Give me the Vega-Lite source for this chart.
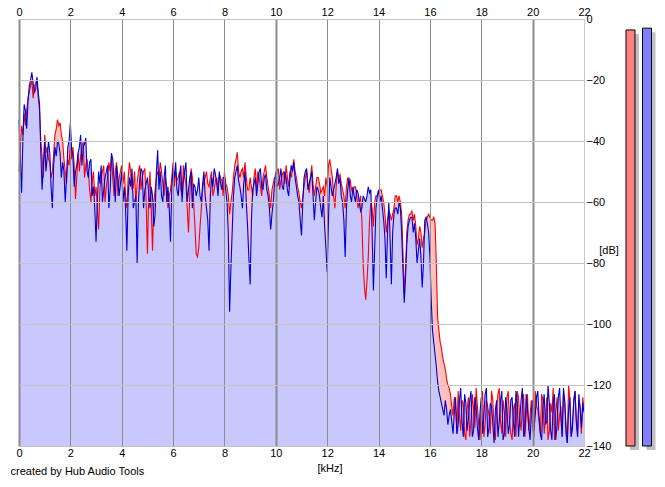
{
  "$schema": "https://vega.github.io/schema/vega-lite/v6.json",
  "background": "white",
  "padding": {"left": 10, "top": 6, "right": 0, "bottom": 0},
  "config": {
    "view": {"stroke": null},
    "font": "Liberation Sans",
    "axis": {
      "labelFont": "Liberation Sans", "labelFontSize": 11, "labelColor": "black",
      "titleFont": "Liberation Sans", "titleFontSize": 11, "titleFontWeight": "normal", "titleColor": "black",
      "ticks": false, "tickSize": 0, "domain": false, "labelFlush": false, "labelOverlap": false
    }
  },
  "datasets": {
    "spec": [
      {"f":0.0,"L":-50,"R":-33},{"f":0.1,"L":-35,"R":-57},{"f":0.2,"L":-31,"R":-28},{"f":0.3,"L":-30,"R":-36},{"f":0.4,"L":-24,"R":-22},
      {"f":0.5,"L":-20,"R":-17.5},{"f":0.6,"L":-22,"R":-24},{"f":0.7,"L":-20,"R":-19},{"f":0.8,"L":-30,"R":-28},{"f":0.9,"L":-45,"R":-56},
      {"f":1.0,"L":-38,"R":-40},{"f":1.1,"L":-42,"R":-45},{"f":1.2,"L":-47,"R":-44},{"f":1.3,"L":-50,"R":-62},{"f":1.4,"L":-38,"R":-42},
      {"f":1.5,"L":-33,"R":-40},{"f":1.6,"L":-34,"R":-44},{"f":1.7,"L":-40,"R":-47},{"f":1.8,"L":-50,"R":-60},{"f":1.9,"L":-46,"R":-42},
      {"f":2.0,"L":-40,"R":-34},{"f":2.1,"L":-42,"R":-45},{"f":2.2,"L":-59,"R":-50},{"f":2.3,"L":-44,"R":-44},{"f":2.4,"L":-45,"R":-38},
      {"f":2.5,"L":-40,"R":-42},{"f":2.6,"L":-48,"R":-39},{"f":2.7,"L":-50,"R":-52},{"f":2.8,"L":-60,"R":-46},{"f":2.9,"L":-50,"R":-55},
      {"f":3.0,"L":-55,"R":-73},{"f":3.1,"L":-69,"R":-50},{"f":3.2,"L":-52,"R":-48},{"f":3.3,"L":-48,"R":-56},{"f":3.4,"L":-55,"R":-50},
      {"f":3.5,"L":-47,"R":-62},{"f":3.6,"L":-45,"R":-44},{"f":3.7,"L":-58,"R":-52},{"f":3.8,"L":-47,"R":-48},{"f":3.9,"L":-52,"R":-58},
      {"f":4.0,"L":-48,"R":-50},{"f":4.1,"L":-50,"R":-55},{"f":4.2,"L":-62,"R":-76},{"f":4.3,"L":-47,"R":-52},{"f":4.4,"L":-56,"R":-49},
      {"f":4.5,"L":-50,"R":-60},{"f":4.6,"L":-54,"R":-80},{"f":4.7,"L":-48,"R":-53},{"f":4.8,"L":-52,"R":-50},{"f":4.9,"L":-49,"R":-56},
      {"f":5.0,"L":-77,"R":-52},{"f":5.1,"L":-50,"R":-62},{"f":5.2,"L":-76,"R":-58},{"f":5.3,"L":-56,"R":-64},{"f":5.4,"L":-50,"R":-43},
      {"f":5.5,"L":-47,"R":-50},{"f":5.6,"L":-54,"R":-60},{"f":5.7,"L":-52,"R":-48},{"f":5.8,"L":-62,"R":-55},{"f":5.9,"L":-56,"R":-73},
      {"f":6.0,"L":-47,"R":-49},{"f":6.1,"L":-50,"R":-47},{"f":6.2,"L":-52,"R":-58},{"f":6.3,"L":-56,"R":-48},{"f":6.4,"L":-48,"R":-53},
      {"f":6.5,"L":-54,"R":-47},{"f":6.6,"L":-70,"R":-56},{"f":6.7,"L":-49,"R":-50},{"f":6.8,"L":-60,"R":-54},{"f":6.9,"L":-77,"R":-58},
      {"f":7.0,"L":-75,"R":-52},{"f":7.1,"L":-62,"R":-60},{"f":7.2,"L":-53,"R":-50},{"f":7.3,"L":-50,"R":-62},{"f":7.4,"L":-55,"R":-76},
      {"f":7.5,"L":-50,"R":-52},{"f":7.6,"L":-56,"R":-49},{"f":7.7,"L":-52,"R":-54},{"f":7.8,"L":-51,"R":-50},{"f":7.9,"L":-53,"R":-56},
      {"f":8.0,"L":-50,"R":-52},{"f":8.1,"L":-55,"R":-60},{"f":8.2,"L":-64,"R":-96},{"f":8.3,"L":-57,"R":-70},{"f":8.4,"L":-48,"R":-52},
      {"f":8.5,"L":-43.7,"R":-48},{"f":8.6,"L":-52,"R":-55},{"f":8.7,"L":-49,"R":-62},{"f":8.8,"L":-47,"R":-50},{"f":8.9,"L":-56,"R":-68},
      {"f":9.0,"L":-52,"R":-87},{"f":9.1,"L":-58,"R":-56},{"f":9.2,"L":-49,"R":-52},{"f":9.3,"L":-50,"R":-54},{"f":9.4,"L":-55,"R":-49},
      {"f":9.5,"L":-52,"R":-56},{"f":9.6,"L":-48,"R":-51},{"f":9.7,"L":-55,"R":-58},{"f":9.8,"L":-62,"R":-69},{"f":9.9,"L":-54,"R":-60},
      {"f":10.0,"L":-52,"R":-50},{"f":10.1,"L":-49,"R":-54},{"f":10.2,"L":-53,"R":-49},{"f":10.3,"L":-50,"R":-56},{"f":10.4,"L":-48,"R":-52},
      {"f":10.5,"L":-55,"R":-58},{"f":10.6,"L":-52,"R":-48},{"f":10.7,"L":-46,"R":-47},{"f":10.8,"L":-52,"R":-55},{"f":10.9,"L":-57,"R":-60},
      {"f":11.0,"L":-62,"R":-71},{"f":11.1,"L":-55,"R":-52},{"f":11.2,"L":-50,"R":-49},{"f":11.3,"L":-57,"R":-54},{"f":11.4,"L":-48,"R":-50},
      {"f":11.5,"L":-58,"R":-66},{"f":11.6,"L":-52,"R":-55},{"f":11.7,"L":-54,"R":-58},{"f":11.8,"L":-56,"R":-65},{"f":11.9,"L":-58,"R":-68},
      {"f":12.0,"L":-55,"R":-83},{"f":12.1,"L":-46,"R":-52},{"f":12.2,"L":-52,"R":-58},{"f":12.3,"L":-62,"R":-54},{"f":12.4,"L":-50,"R":-49},
      {"f":12.5,"L":-51,"R":-52},{"f":12.6,"L":-56,"R":-60},{"f":12.7,"L":-62,"R":-78},{"f":12.8,"L":-52,"R":-56},{"f":12.9,"L":-53,"R":-58},
      {"f":13.0,"L":-57,"R":-55},{"f":13.1,"L":-55,"R":-60},{"f":13.2,"L":-62,"R":-57},{"f":13.3,"L":-58,"R":-63},{"f":13.4,"L":-80,"R":-58},
      {"f":13.5,"L":-92,"R":-60},{"f":13.6,"L":-78,"R":-55},{"f":13.7,"L":-60,"R":-56},{"f":13.8,"L":-68,"R":-89},{"f":13.9,"L":-58,"R":-62},
      {"f":14.0,"L":-57,"R":-56},{"f":14.1,"L":-56,"R":-58},{"f":14.2,"L":-60,"R":-66},{"f":14.3,"L":-70,"R":-85},{"f":14.4,"L":-63,"R":-60},
      {"f":14.5,"L":-66,"R":-87},{"f":14.6,"L":-62,"R":-64},{"f":14.7,"L":-58,"R":-62},{"f":14.8,"L":-58,"R":-60},{"f":14.9,"L":-64,"R":-70},
      {"f":15.0,"L":-90,"R":-93},{"f":15.1,"L":-70,"R":-74},{"f":15.2,"L":-64,"R":-66},{"f":15.3,"L":-63,"R":-65},{"f":15.4,"L":-64,"R":-67},
      {"f":15.5,"L":-74,"R":-80},{"f":15.6,"L":-68,"R":-72},{"f":15.7,"L":-75,"R":-88},{"f":15.8,"L":-70,"R":-66},{"f":15.9,"L":-65,"R":-67},
      {"f":16.0,"L":-65,"R":-78},{"f":16.1,"L":-66,"R":-102},{"f":16.2,"L":-67,"R":-110},{"f":16.3,"L":-98,"R":-119},{"f":16.4,"L":-106,"R":-124},
      {"f":16.5,"L":-111,"R":-128},{"f":16.6,"L":-115,"R":-125},{"f":16.7,"L":-120,"R":-133},{"f":16.8,"L":-123,"R":-128},{"f":16.9,"L":-130,"R":-136},
      {"f":17.0,"L":-127,"R":-124},{"f":17.1,"L":-122,"R":-133},{"f":17.2,"L":-135,"R":-121},{"f":17.3,"L":-126,"R":-137},{"f":17.4,"L":-138,"R":-126},
      {"f":17.5,"L":-124,"R":-131},{"f":17.6,"L":-132,"R":-122},{"f":17.7,"L":-128,"R":-135},{"f":17.8,"L":-121,"R":-127},{"f":17.9,"L":-133,"R":-138},
      {"f":18.0,"L":-126,"R":-124},{"f":18.1,"L":-137,"R":-130},{"f":18.2,"L":-125,"R":-121},{"f":18.3,"L":-130,"R":-134},{"f":18.4,"L":-122,"R":-127},
      {"f":18.5,"L":-134,"R":-139},{"f":18.6,"L":-127,"R":-125},{"f":18.7,"L":-121,"R":-132},{"f":18.8,"L":-136,"R":-122},{"f":18.9,"L":-129,"R":-136},
      {"f":19.0,"L":-124,"R":-128},{"f":19.1,"L":-132,"R":-133},{"f":19.2,"L":-138,"R":-124},{"f":19.3,"L":-126,"R":-137},{"f":19.4,"L":-122,"R":-126},
      {"f":19.5,"L":-131,"R":-131},{"f":19.6,"L":-127,"R":-121},{"f":19.7,"L":-137,"R":-135},{"f":19.8,"L":-123,"R":-128},{"f":19.9,"L":-130,"R":-138},
      {"f":20.0,"L":-134,"R":-125},{"f":20.1,"L":-122,"R":-130},{"f":20.2,"L":-128,"R":-122},{"f":20.3,"L":-136,"R":-136},{"f":20.4,"L":-125,"R":-127},
      {"f":20.5,"L":-131,"R":-133},{"f":20.6,"L":-138,"R":-120},{"f":20.7,"L":-126,"R":-135},{"f":20.8,"L":-121,"R":-126},{"f":20.9,"L":-129,"R":-138},
      {"f":21.0,"L":-135,"R":-124},{"f":21.1,"L":-127,"R":-131},{"f":21.2,"L":-123,"R":-121},{"f":21.3,"L":-133,"R":-136},{"f":21.4,"L":-120,"R":-128},
      {"f":21.5,"L":-137,"R":-137},{"f":21.6,"L":-126,"R":-125},{"f":21.7,"L":-131,"R":-132},{"f":21.8,"L":-125,"R":-123},{"f":21.9,"L":-136,"R":-134},
      {"f":22.0,"L":-128,"R":-129},
      {"f":0.05,"L":-42,"R":-45},{"f":0.15,"L":-38,"R":-40},{"f":0.25,"L":-35,"R":-30},{"f":0.35,"L":-26,"R":-27},{"f":0.45,"L":-22,"R":-20},
      {"f":0.55,"L":-26,"R":-21},{"f":0.65,"L":-21,"R":-23},{"f":0.75,"L":-26,"R":-24},{"f":0.85,"L":-40,"R":-44},{"f":0.95,"L":-52,"R":-48},
      {"f":1.05,"L":-44,"R":-50},{"f":1.15,"L":-46,"R":-40},{"f":1.25,"L":-52,"R":-55},{"f":1.35,"L":-44,"R":-48},{"f":1.45,"L":-36,"R":-45},
      {"f":1.55,"L":-35,"R":-41},{"f":1.65,"L":-38,"R":-52},{"f":1.75,"L":-46,"R":-50},{"f":1.85,"L":-54,"R":-52},{"f":1.95,"L":-48,"R":-40},
      {"f":2.05,"L":-46,"R":-43},{"f":2.15,"L":-48,"R":-55},{"f":2.25,"L":-52,"R":-48},{"f":2.35,"L":-50,"R":-42},{"f":2.45,"L":-42,"R":-48},
      {"f":2.55,"L":-52,"R":-41},{"f":2.65,"L":-46,"R":-50},{"f":2.75,"L":-56,"R":-47},{"f":2.85,"L":-53,"R":-58},{"f":2.95,"L":-58,"R":-62},
      {"f":3.05,"L":-62,"R":-60},{"f":3.15,"L":-56,"R":-54},{"f":3.25,"L":-50,"R":-60},{"f":3.35,"L":-60,"R":-52},{"f":3.45,"L":-52,"R":-48},
      {"f":3.55,"L":-50,"R":-56},{"f":3.65,"L":-52,"R":-46},{"f":3.75,"L":-50,"R":-60},{"f":3.85,"L":-58,"R":-52},{"f":3.95,"L":-50,"R":-54},
      {"f":4.05,"L":-54,"R":-60},{"f":4.15,"L":-58,"R":-62},{"f":4.25,"L":-52,"R":-58},{"f":4.35,"L":-50,"R":-55},{"f":4.45,"L":-55,"R":-62},
      {"f":4.55,"L":-60,"R":-58},{"f":4.65,"L":-50,"R":-60},{"f":4.75,"L":-56,"R":-49},{"f":4.85,"L":-50,"R":-62},{"f":4.95,"L":-60,"R":-54},
      {"f":5.05,"L":-58,"R":-57},{"f":5.15,"L":-62,"R":-55},{"f":5.25,"L":-60,"R":-68},{"f":5.35,"L":-52,"R":-50},{"f":5.45,"L":-52,"R":-56},
      {"f":5.55,"L":-50,"R":-58},{"f":5.65,"L":-58,"R":-52},{"f":5.75,"L":-55,"R":-60},{"f":5.85,"L":-58,"R":-62},{"f":5.95,"L":-52,"R":-55},
      {"f":6.05,"L":-55,"R":-52},{"f":6.15,"L":-53,"R":-56},{"f":6.25,"L":-50,"R":-52},{"f":6.35,"L":-58,"R":-60},{"f":6.45,"L":-52,"R":-50},
      {"f":6.55,"L":-62,"R":-60},{"f":6.65,"L":-58,"R":-52},{"f":6.75,"L":-52,"R":-62},{"f":6.85,"L":-68,"R":-55},{"f":6.95,"L":-78,"R":-56},
      {"f":7.05,"L":-68,"R":-58},{"f":7.15,"L":-56,"R":-54},{"f":7.25,"L":-52,"R":-58},{"f":7.35,"L":-54,"R":-66},{"f":7.45,"L":-52,"R":-58},
      {"f":7.55,"L":-58,"R":-55},{"f":7.65,"L":-53,"R":-51},{"f":7.75,"L":-56,"R":-58},{"f":7.85,"L":-52,"R":-54},{"f":7.95,"L":-58,"R":-52},
      {"f":8.05,"L":-54,"R":-56},{"f":8.15,"L":-58,"R":-70},{"f":8.25,"L":-60,"R":-82},{"f":8.35,"L":-52,"R":-58},{"f":8.45,"L":-46,"R":-50},
      {"f":8.55,"L":-50,"R":-53},{"f":8.65,"L":-50,"R":-58},{"f":8.75,"L":-52,"R":-54},{"f":8.85,"L":-52,"R":-60},{"f":8.95,"L":-56,"R":-78},
      {"f":9.05,"L":-55,"R":-66},{"f":9.15,"L":-52,"R":-54},{"f":9.25,"L":-56,"R":-58},{"f":9.35,"L":-52,"R":-50},{"f":9.45,"L":-58,"R":-55},
      {"f":9.55,"L":-50,"R":-52},{"f":9.65,"L":-52,"R":-56},{"f":9.75,"L":-58,"R":-62},{"f":9.85,"L":-56,"R":-64},{"f":9.95,"L":-52,"R":-54},
      {"f":10.05,"L":-50,"R":-55},{"f":10.15,"L":-56,"R":-52},{"f":10.25,"L":-51,"R":-55},{"f":10.35,"L":-54,"R":-50},{"f":10.45,"L":-52,"R":-56},
      {"f":10.55,"L":-50,"R":-52},{"f":10.65,"L":-49,"R":-50},{"f":10.75,"L":-50,"R":-52},{"f":10.85,"L":-55,"R":-58},{"f":10.95,"L":-60,"R":-66},
      {"f":11.05,"L":-58,"R":-60},{"f":11.15,"L":-52,"R":-50},{"f":11.25,"L":-54,"R":-56},{"f":11.35,"L":-52,"R":-52},{"f":11.45,"L":-54,"R":-58},
      {"f":11.55,"L":-55,"R":-60},{"f":11.65,"L":-52,"R":-56},{"f":11.75,"L":-57,"R":-62},{"f":11.85,"L":-55,"R":-58},{"f":11.95,"L":-52,"R":-75},
      {"f":12.05,"L":-48,"R":-66},{"f":12.15,"L":-49,"R":-55},{"f":12.25,"L":-58,"R":-56},{"f":12.35,"L":-55,"R":-52},{"f":12.45,"L":-52,"R":-54},
      {"f":12.55,"L":-54,"R":-58},{"f":12.65,"L":-58,"R":-66},{"f":12.75,"L":-55,"R":-62},{"f":12.85,"L":-54,"R":-52},{"f":12.95,"L":-56,"R":-60},
      {"f":13.05,"L":-55,"R":-58},{"f":13.15,"L":-58,"R":-56},{"f":13.25,"L":-60,"R":-60},{"f":13.35,"L":-66,"R":-62},{"f":13.45,"L":-88,"R":-59},
      {"f":13.55,"L":-86,"R":-58},{"f":13.65,"L":-66,"R":-57},{"f":13.75,"L":-62,"R":-70},{"f":13.85,"L":-60,"R":-75},{"f":13.95,"L":-58,"R":-58},
      {"f":14.05,"L":-56,"R":-60},{"f":14.15,"L":-58,"R":-62},{"f":14.25,"L":-64,"R":-72},{"f":14.35,"L":-66,"R":-70},{"f":14.45,"L":-64,"R":-72},
      {"f":14.55,"L":-64,"R":-70},{"f":14.65,"L":-58,"R":-62},{"f":14.75,"L":-60,"R":-64},{"f":14.85,"L":-60,"R":-62},{"f":14.95,"L":-76,"R":-82},
      {"f":15.05,"L":-82,"R":-85},{"f":15.15,"L":-66,"R":-68},{"f":15.25,"L":-64,"R":-65},{"f":15.35,"L":-66,"R":-70},{"f":15.45,"L":-68,"R":-72},
      {"f":15.55,"L":-72,"R":-76},{"f":15.65,"L":-70,"R":-78},{"f":15.75,"L":-72,"R":-80},{"f":15.85,"L":-66,"R":-65},{"f":15.95,"L":-64,"R":-70},
      {"f":16.05,"L":-66,"R":-92},{"f":16.15,"L":-65,"R":-106},{"f":16.25,"L":-80,"R":-114},{"f":16.35,"L":-102,"R":-122},{"f":16.45,"L":-108,"R":-126},
      {"f":16.55,"L":-113,"R":-130},{"f":16.65,"L":-118,"R":-128},{"f":16.75,"L":-121,"R":-130},{"f":16.85,"L":-127,"R":-132},{"f":16.95,"L":-124,"R":-129},
      {"f":17.05,"L":-136,"R":-136},{"f":17.15,"L":-130,"R":-125},{"f":17.25,"L":-125,"R":-132},{"f":17.35,"L":-136,"R":-123},{"f":17.45,"L":-128,"R":-135},
      {"f":17.55,"L":-137,"R":-125},{"f":17.65,"L":-123,"R":-137},{"f":17.75,"L":-134,"R":-124},{"f":17.85,"L":-127,"R":-134},{"f":17.95,"L":-138,"R":-129},
      {"f":18.05,"L":-122,"R":-136},{"f":18.15,"L":-133,"R":-123},{"f":18.25,"L":-127,"R":-137},{"f":18.35,"L":-136,"R":-126},{"f":18.45,"L":-125,"R":-133},
      {"f":18.55,"L":-138,"R":-128},{"f":18.65,"L":-123,"R":-137},{"f":18.75,"L":-132,"R":-125},{"f":18.85,"L":-125,"R":-138},{"f":18.95,"L":-137,"R":-124},
      {"f":19.05,"L":-122,"R":-136},{"f":19.15,"L":-136,"R":-125},{"f":19.25,"L":-128,"R":-132},{"f":19.35,"L":-137,"R":-122},{"f":19.45,"L":-124,"R":-137},
      {"f":19.55,"L":-135,"R":-125},{"f":19.65,"L":-123,"R":-137},{"f":19.75,"L":-130,"R":-123},{"f":19.85,"L":-135,"R":-134},{"f":19.95,"L":-125,"R":-129},
      {"f":20.05,"L":-137,"R":-135},{"f":20.15,"L":-127,"R":-124},{"f":20.25,"L":-132,"R":-130},{"f":20.35,"L":-123,"R":-138},{"f":20.45,"L":-136,"R":-123},
      {"f":20.55,"L":-124,"R":-132},{"f":20.65,"L":-135,"R":-126},{"f":20.75,"L":-129,"R":-138},{"f":20.85,"L":-138,"R":-123},{"f":20.95,"L":-124,"R":-133},
      {"f":21.05,"L":-130,"R":-121},{"f":21.15,"L":-137,"R":-137},{"f":21.25,"L":-126,"R":-125},{"f":21.35,"L":-139,"R":-139},{"f":21.45,"L":-125,"R":-124},
      {"f":21.55,"L":-133,"R":-134},{"f":21.65,"L":-122,"R":-122},{"f":21.75,"L":-136,"R":-137},{"f":21.85,"L":-127,"R":-128},{"f":21.95,"L":-124,"R":-126}
    ],
    "meter": [
      {"ch": "L", "lvl": -3.6},
      {"ch": "R", "lvl": -3.0}
    ]
  },
  "bounds": "flush",
  "spacing": 30,
  "hconcat": [
    {
      "width": 565,
      "height": 427,
      "data": {"name": "spec"},
      "title": {
        "text": "created by Hub Audio Tools",
        "orient": "bottom", "anchor": "start", "frame": "group",
        "dx": -8.5, "dy": -7, "offset": 0,
        "font": "Liberation Sans", "fontSize": 11, "fontWeight": "normal", "color": "black"
      },
      "layer": [
        {
          "mark": {"type": "area", "color": "#ffc0c0"},
          "encoding": {
            "x": {
              "field": "f", "type": "quantitative",
              "scale": {"domain": [0, 22], "nice": false},
              "axis": {
                "orient": "bottom", "values": [0, 2, 4, 6, 8, 10, 12, 14, 16, 18, 20, 22],
                "title": "[kHz]", "titleX": 310.5, "titleY": 22, "titleBaseline": "middle", "titleAlign": "center",
                "labelPadding": 1, "grid": true, "gridOpacity": 1, "zindex": 1,
                "gridColor": {"condition": {"test": "datum.value === 22", "value": "#c8c8c8"}, "value": "#8c8c8c"},
                "gridWidth": {"condition": {"test": "datum.value % 10 === 0", "value": 2}, "value": 1}
              }
            },
            "y": {
              "field": "L", "type": "quantitative", "title": "[dB]",
              "scale": {"domain": [-140, 0], "nice": false},
              "axis": {
                "orient": "right", "values": [0, -20, -40, -60, -80, -100, -120, -140],
                "title": "[dB]", "titleAngle": 0, "titleX": 24.5, "titleY": 231,
                "titleBaseline": "middle", "titleAlign": "center",
                "labelPadding": 2, "grid": true, "gridColor": "#c4c4c4", "gridOpacity": 1, "zindex": 1
              }
            },
            "y2": {"datum": -140}
          }
        },
        {
          "mark": {"type": "area", "color": "#c8c8ff"},
          "encoding": {
            "x": {
              "field": "f", "type": "quantitative",
              "axis": {"orient": "top", "values": [0, 2, 4, 6, 8, 10, 12, 14, 16, 18, 20, 22], "title": null, "grid": false, "labelPadding": 2}
            },
            "y": {"field": "R", "type": "quantitative", "title": "[dB]"},
            "y2": {"datum": -140}
          }
        },
        {
          "mark": {"type": "line", "color": "#ff0000", "strokeWidth": 1.1},
          "encoding": {
            "x": {"field": "f", "type": "quantitative", "axis": null},
            "y": {"field": "L", "type": "quantitative", "title": "[dB]"}
          }
        },
        {
          "mark": {"type": "line", "color": "#0000d0", "strokeWidth": 1.1},
          "encoding": {
            "x": {"field": "f", "type": "quantitative", "axis": null},
            "y": {"field": "R", "type": "quantitative", "title": "[dB]"}
          }
        }
      ],
      "resolve": {"axis": {"x": "independent"}}
    },
    {
      "width": 49.5,
      "height": 427,
      "data": {"name": "meter"},
      "layer": [
        {
          "mark": {"type": "bar", "color": "#c0c0c0", "xOffset": 4, "yOffset": 4, "y2Offset": 4},
          "encoding": {
            "x": {"field": "ch", "type": "nominal", "scale": {"paddingInner": 0.4545, "paddingOuter": 0.727}, "axis": null},
            "y": {"field": "lvl", "type": "quantitative", "scale": {"domain": [-140, 0], "nice": false}, "axis": null},
            "y2": {"datum": -140}
          }
        },
        {
          "mark": {"type": "bar", "stroke": "black", "strokeWidth": 1},
          "encoding": {
            "x": {"field": "ch", "type": "nominal", "axis": null},
            "y": {"field": "lvl", "type": "quantitative", "axis": null},
            "y2": {"datum": -140},
            "color": {"field": "ch", "type": "nominal", "scale": {"domain": ["L", "R"], "range": ["#ff8080", "#8080ff"]}, "legend": null}
          }
        }
      ]
    }
  ]
}
